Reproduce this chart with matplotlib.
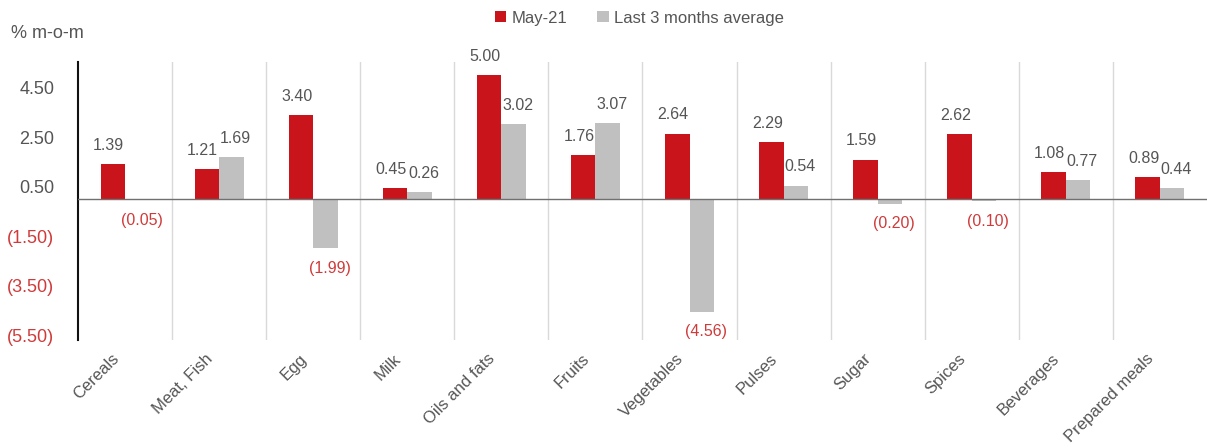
import matplotlib
matplotlib.use("Agg")
import matplotlib.pyplot as plt
import matplotlib.transforms as mtransforms
import numpy as np

categories = ["Cereals", "Meat, Fish", "Egg", "Milk", "Oils and fats", "Fruits",
              "Vegetables", "Pulses", "Sugar", "Spices", "Beverages", "Prepared meals"]
may21 = [1.39, 1.21, 3.40, 0.45, 5.00, 1.76, 2.64, 2.29, 1.59, 2.62, 1.08, 0.89]
avg3m = [-0.05, 1.69, -1.99, 0.26, 3.02, 3.07, -4.56, 0.54, -0.20, -0.10, 0.77, 0.44]
yticks = [4.5, 2.5, 0.5, -1.5, -3.5, -5.5]

RED = "#c8141a"
GRAY = "#c0c0c0"
TXT = "#555555"
NEGTXT = "#d03a3a"

plt.rcParams['font.family'] = ['Liberation Sans', 'DejaVu Sans']

fig = plt.figure(figsize=(12.07, 4.48), dpi=100)
ax = fig.add_axes([78/1207, 1-340/448, 1-78/1207, (340-62)/448])

x = np.arange(len(categories))
w = 0.26
b1 = ax.bar(x - w/2, may21, w, color=RED, label="May-21", zorder=3)
b2 = ax.bar(x + w/2, avg3m, w, color=GRAY, label="Last 3 months average", zorder=3)

def fmt(v):
    return f"({abs(v):.2f})" if v < 0 else f"{v:.2f}"

for bars, vals, dx in ((b1, may21, -3), (b2, avg3m, 3)):
    for r, v in zip(bars, vals):
        cx = r.get_x() + r.get_width()/2
        if v >= 0:
            ax.annotate(fmt(v), (cx, v), xytext=(dx, 8), textcoords="offset points",
                        ha="center", va="bottom", fontsize=11.5, color=TXT, zorder=2)
        else:
            ax.annotate(fmt(v), (cx, v), xytext=(dx, -9), textcoords="offset points",
                        ha="center", va="top", fontsize=11.5, color=NEGTXT, zorder=2)

ax.set_xlim(-0.5, len(categories) - 0.5)
ax.set_ylim(-5.7, 5.53)
ax.set_yticks(yticks)
ax.set_yticklabels([fmt(t) for t in yticks], fontsize=13)
for lab, t in zip(ax.get_yticklabels(), yticks):
    lab.set_color(NEGTXT if t < 0 else TXT)
ax.tick_params(axis="y", length=0, pad=17)

ax.set_xticks(x)
ax.set_xticklabels(categories, rotation=45, ha="right", rotation_mode="anchor",
                   fontsize=12, color=TXT)
ax.tick_params(axis="x", length=0, pad=8)
shift = mtransforms.ScaledTranslation(-14/100, 0, fig.dpi_scale_trans)
for lab in ax.get_xticklabels():
    lab.set_transform(lab.get_transform() + shift)

for b in np.arange(0.5, len(categories) - 0.5, 1.0):
    ax.axvline(b, color="#d9d9d9", lw=1, zorder=1)
ax.axhline(0, color="#707070", lw=1, zorder=4)

for s in ("top", "right", "bottom"):
    ax.spines[s].set_visible(False)
ax.spines["left"].set_color("#111111")
ax.spines["left"].set_linewidth(1.5)

fig.text(11/1207, 1-33/448, "% m-o-m", fontsize=13, color=TXT, va="center", ha="left")

fig.legend(handles=[b1, b2], loc="center", bbox_to_anchor=(639/1207, 1-18/448), ncol=2,
           frameon=False, fontsize=12, labelcolor=TXT, handlelength=0.7, handleheight=0.7,
           handletextpad=0.3, columnspacing=1.8)

fig.savefig("out.png", dpi=100)
